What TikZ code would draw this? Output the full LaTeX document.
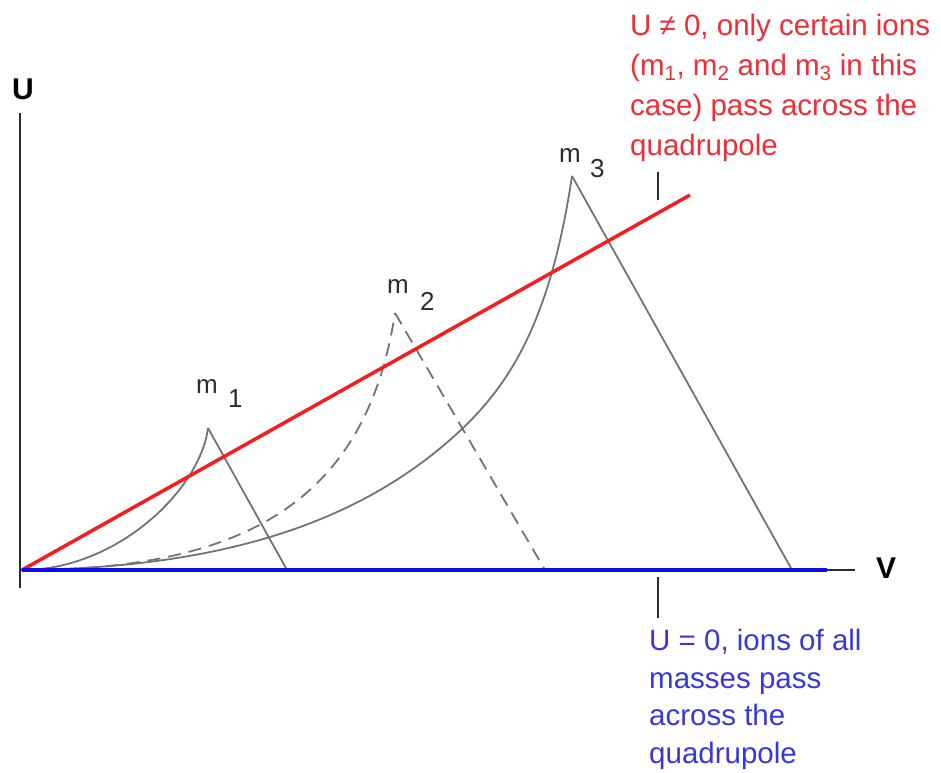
\documentclass[tikz,border=0pt]{standalone}
\usepackage{fontspec}
\setmainfont{Liberation Sans}
\definecolor{redline}{RGB}{245,30,30}
\definecolor{blueline}{RGB}{15,15,235}
\definecolor{redtext}{RGB}{238,45,55}
\definecolor{bluetext}{RGB}{55,55,225}
\definecolor{curvegray}{RGB}{115,115,115}
\definecolor{axisgray}{RGB}{45,45,45}
\tikzset{
  axisline/.style={draw=axisgray, line width=2.2pt},
  curveline/.style={draw=curvegray, line width=1.8pt, line join=miter},
  dashcurve/.style={curveline, dash pattern=on 13pt off 8pt},
  redtxt/.style={text=redtext, font=\fontsize{29.5}{34}\selectfont, inner sep=0pt, anchor=base west},
  bluetxt/.style={text=bluetext, font=\fontsize{29.5}{34}\selectfont, inner sep=0pt, anchor=base west},
  mlab/.style={text=axisgray, font=\fontsize{26}{30}\selectfont, inner sep=0pt, anchor=base west},
  axlab/.style={text=black, font=\fontsize{30}{34}\selectfont\bfseries, inner sep=0pt},
  tickline/.style={draw=axisgray, line width=2pt}
}
\begin{document}
\begin{tikzpicture}[x=1pt,y=-1pt]
\useasboundingbox (0,0) rectangle (941,772);
% key points
\coordinate (O) at (22,570);
\coordinate (Ytop) at (20,113);
\coordinate (Ybot) at (20,588);
\coordinate (Xl) at (20,570);
\coordinate (Xr) at (855,570);
\coordinate (Bend) at (827,570);
\coordinate (Rend) at (690,195);
\coordinate (P1) at (208,428);
\coordinate (F1) at (287,570);
\coordinate (P2) at (395,313);
\coordinate (F2) at (545,570);
\coordinate (P3) at (572,176);
\coordinate (M3) at (463,428);
\coordinate (F3) at (792,570);
\coordinate (T1a) at (658,172);
\coordinate (T1b) at (658,200);
\coordinate (T2a) at (658,577);
\coordinate (T2b) at (658,618);
% axes
\draw[axisline] (Ytop) -- (Ybot);
\draw[axisline] (Xl) -- (Xr);
% stability regions
\draw[curveline] (O) .. controls (117,570) and (200,490) .. (P1);
\draw[curveline] (P1) -- (F1);
\draw[dashcurve] (O) .. controls (242,570) and (366,503) .. (P2);
\draw[dashcurve] (P2) -- (F2);
\draw[curveline] (O) .. controls (222,568) and (363,523) .. (M3)
                     .. controls (513,380) and (551,316) .. (P3);
\draw[curveline] (P3) -- (F3);
% scan lines
\draw[draw=redline, line width=3.5pt] (O) -- (Rend);
\draw[draw=blueline, line width=4.5pt] (O) -- (Bend);
% ticks
\draw[tickline] (T1a) -- (T1b);
\draw[tickline] (T2a) -- (T2b);
% axis labels
\node[axlab] (U) at (23,89) {U};
\node[axlab] (V) at (886,568) {V};
% peak labels
\node[mlab] (m1) at (196,393) {m};
\node[mlab] (s1) at (228,407) {1};
\node[mlab] (m2) at (387,293) {m};
\node[mlab] (s2) at (420,310) {2};
\node[mlab] (m3) at (559,162) {m};
\node[mlab] (s3) at (590,177) {3};
% red annotation
\node[redtxt] (r1) at (630,35) {U ≠ 0, only certain ions};
\node[redtxt] (r2) at (630,75) {(m\textsubscript{1}, m\textsubscript{2} and m\textsubscript{3} in this};
\node[redtxt] (r3) at (630,115) {case) pass across the};
\node[redtxt] (r4) at (630,155) {quadrupole};
% blue annotation
\node[bluetxt] (b1) at (649,650) {U = 0, ions of all};
\node[bluetxt] (b2) at (649,688) {masses pass};
\node[bluetxt] (b3) at (649,725) {across the};
\node[bluetxt] (b4) at (649,763) {quadrupole};
\end{tikzpicture}
\end{document}
